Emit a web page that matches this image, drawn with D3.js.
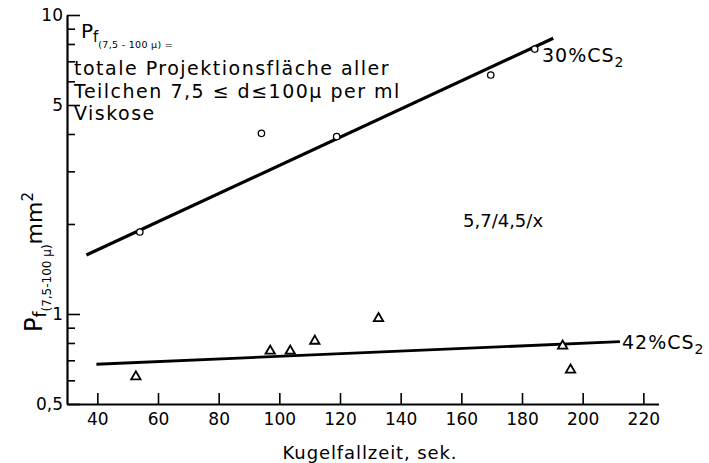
<!DOCTYPE html>
<html><head><meta charset="utf-8">
<script src="https://cdn.jsdelivr.net/npm/d3@7"></script>
<style>
html,body{margin:0;padding:0;background:#fff;}
svg{display:block;font-family:"DejaVu Sans",sans-serif;}
</style></head>
<body><svg id="c" width="709" height="463"></svg>
<script>
// ---- data ----
const xTicks = [40, 60, 80, 100, 120, 140, 160, 180, 200, 220];
const yMajorTicks = [0.5, 1, 5, 10];
const yMajorLabels = ["0,5", "1", "5", "10"];
const yMinorTicks = [0.6, 0.7, 0.8, 0.9, 2, 3, 4, 6, 7, 8, 9];

const cs30X = [54.0, 94.1, 118.9, 169.7, 184.2];
const cs30Y = [1.88, 4.02, 3.92, 6.30, 7.69];
const cs42X = [52.7, 97.0, 103.6, 111.7, 132.7, 193.4, 196.0];
const cs42Y = [0.617, 0.752, 0.752, 0.812, 0.967, 0.782, 0.650];
const fit30X = [36.4, 190.3];
const fit30Y = [1.575, 8.36];
const fit42X = [39.7, 212.3];
const fit42Y = [0.679, 0.808];

const svg = d3.select("#c");
const x = d3.scaleLinear().domain([30, 225]).range([67, 658.5]);
const y = d3.scaleLog().domain([0.5, 10]).range([404, 15]);

// axes
const gy = svg.append("g").attr("transform", "translate(67,0)")
  .call(d3.axisLeft(y).tickValues(yMajorTicks).tickFormat((d, i) => yMajorLabels[i])
    .tickSizeInner(-13).tickSizeOuter(0).tickPadding(4));
const gyMin = svg.append("g").attr("transform", "translate(67,0)")
  .call(d3.axisLeft(y).tickValues(yMinorTicks).tickFormat("").tickSizeInner(-8).tickSizeOuter(0));
gyMin.select(".domain").remove();
const gx = svg.append("g").attr("transform", "translate(0,404)")
  .call(d3.axisBottom(x).tickValues(xTicks).tickFormat(d => d)
    .tickSizeInner(-11).tickSizeOuter(0).tickPadding(9));
[gy, gyMin, gx].forEach(g => {
  g.selectAll("path.domain").attr("stroke", "#000").attr("stroke-width", 2.2);
  g.selectAll(".tick line").attr("stroke", "#000").attr("stroke-width", 1.6);
  g.selectAll("text").attr("fill", "#000").attr("font-size", 17)
    .attr("font-family", "DejaVu Sans");
});

// fit lines
const line = d3.line().x(d => x(d[0])).y(d => y(d[1]));
svg.append("path").datum(fit30X.map((v, i) => [v, fit30Y[i]]))
  .attr("d", line).attr("stroke", "#000").attr("stroke-width", 3.2).attr("fill", "none");
svg.append("path").datum(fit42X.map((v, i) => [v, fit42Y[i]]))
  .attr("d", line).attr("stroke", "#000").attr("stroke-width", 2.8).attr("fill", "none");

// markers
svg.append("g").selectAll("circle").data(cs30X.map((v, i) => [v, cs30Y[i]])).join("circle")
  .attr("cx", d => x(d[0])).attr("cy", d => y(d[1])).attr("r", 3.2)
  .attr("fill", "#fff").attr("stroke", "#000").attr("stroke-width", 1.3);
const tri = d3.symbol().type(d3.symbolTriangle).size(38);
svg.append("g").selectAll("path").data(cs42X.map((v, i) => [v, cs42Y[i]])).join("path")
  .attr("d", tri).attr("transform", d => `translate(${x(d[0])},${y(d[1])})`)
  .attr("fill", "#fff").attr("stroke", "#000").attr("stroke-width", 1.8);

// series labels
const l30 = svg.append("text").attr("x", 542).attr("y", 62).attr("font-size", 19).attr("letter-spacing", 1);
l30.append("tspan").text("30%CS");
l30.append("tspan").attr("font-size", 14).attr("dy", 5).text("2");
const l42 = svg.append("text").attr("x", 622).attr("y", 349).attr("font-size", 19).attr("letter-spacing", 1);
l42.append("tspan").text("42%CS");
l42.append("tspan").attr("font-size", 14).attr("dy", 5).text("2");

svg.append("text").attr("x", 463).attr("y", 227).attr("font-size", 18).text("5,7/4,5/x");

// definition block
const t1 = svg.append("text").attr("x", 81).attr("y", 38).attr("font-size", 20);
t1.append("tspan").text("P");
t1.append("tspan").attr("font-size", 15).attr("dy", 4).text("f");
t1.append("tspan").attr("font-size", 9.5).attr("dy", 6).attr("letter-spacing", 0.3).text("(7,5 - 100 µ) =");
svg.append("text").attr("x", 74).attr("y", 75).attr("font-size", 19).attr("letter-spacing", 1.5)
  .text("totale Projektionsfläche  aller");
svg.append("text").attr("x", 74).attr("y", 97.5).attr("font-size", 19).attr("letter-spacing", 1.5)
  .text("Teilchen 7,5 ≤ d≤100µ per ml");
svg.append("text").attr("x", 74).attr("y", 120).attr("font-size", 19).attr("letter-spacing", 1.5)
  .text("Viskose");

// axis titles
svg.append("text").attr("x", 370).attr("y", 459).attr("text-anchor", "middle")
  .attr("font-size", 18).attr("letter-spacing", 0.9).text("Kugelfallzeit, sek.");
const yl = svg.append("text").attr("transform", "translate(42,332) rotate(-90)").attr("font-size", 24);
yl.append("tspan").text("P");
yl.append("tspan").attr("font-size", 17).attr("dy", 4).text("f");
yl.append("tspan").attr("font-size", 12).attr("dy", 5).text("(7,5-100 µ)");
yl.append("tspan").attr("font-size", 22).attr("dy", -9).text("mm");
yl.append("tspan").attr("font-size", 15).attr("dy", -9).text("2");
</script></body></html>
